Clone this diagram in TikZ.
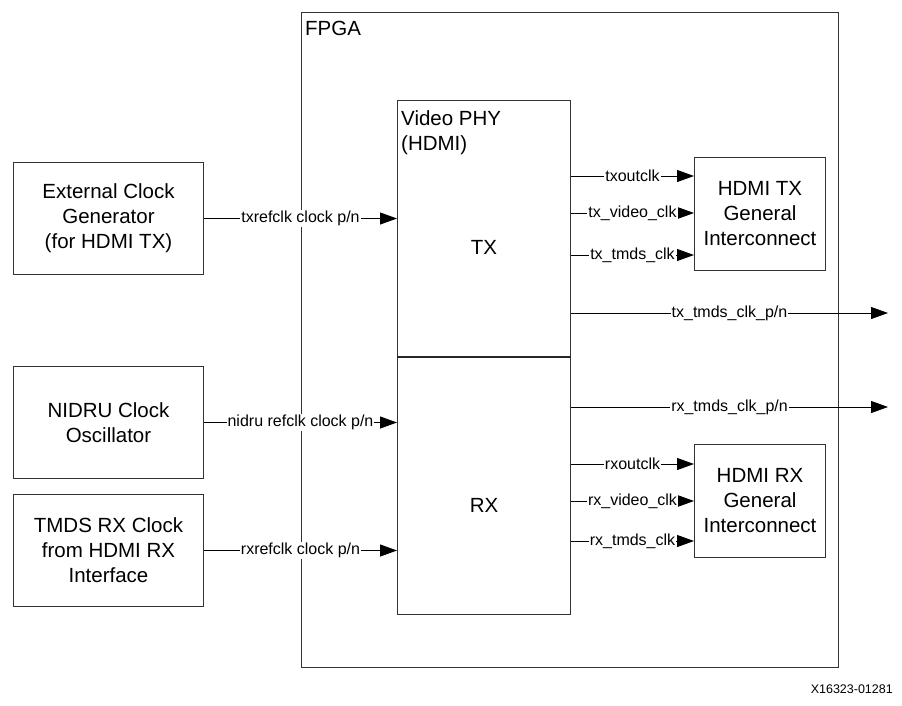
\documentclass[tikz,border=0pt]{standalone}
\usepackage{fontspec}
\setmainfont{Liberation Sans}
\usetikzlibrary{arrows.meta}
\newcommand{\lblfont}{\fontsize{16}{18}\selectfont}
\newcommand{\boxfont}{\fontsize{20.5}{25}\selectfont}
\begin{document}
\begin{tikzpicture}[x=1pt,y=-1pt,
  blk/.style={draw=black!80, line width=1pt, inner sep=0pt, anchor=north west, align=center, font=\boxfont},
  arr/.style={draw=black, line width=1pt, -{Triangle[length=17pt,width=12pt]}},
  lbl/.style={midway, fill=white, inner sep=1pt, font=\lblfont}]
\useasboundingbox (0,0) rectangle (902,705);
% FPGA
\node[blk, minimum width=537pt, minimum height=655pt] (fpga) at (301,12) {};
\node[anchor=north west, font=\boxfont, inner sep=0pt] (fpgal) at (305,21) {FPGA};
% Video PHY
\node[blk, minimum width=173pt, minimum height=514pt] (phy) at (397,100) {};
\node[anchor=north west, font=\boxfont, align=left, inner sep=0pt] (phyl) at (401,110) {Video PHY\\(HDMI)};
\draw[line width=2pt, black!85] (phy.west |- 0,357) -- (phy.east |- 0,357);
\node[font=\boxfont, inner sep=0pt] (tx) at (484,247) {TX};
\node[font=\boxfont, inner sep=0pt] (rx) at (484,505) {RX};
% left boxes
\node[blk, minimum width=190pt, minimum height=112pt] (ext) at (13,162) {External Clock\\Generator\\(for HDMI TX)};
\node[blk, minimum width=190pt, minimum height=112pt] (nid) at (13,366) {NIDRU Clock\\Oscillator};
\node[blk, minimum width=190pt, minimum height=112pt] (tmds) at (13,494) {TMDS RX Clock\\from HDMI RX\\Interface};
% right boxes
\node[blk, minimum width=131pt, minimum height=113pt] (txb) at (694,157) {HDMI TX\\General\\Interconnect};
\node[blk, minimum width=131pt, minimum height=113pt] (rxb) at (694,444) {HDMI RX\\General\\Interconnect};
% input arrows
\draw[arr] (ext.east) -- (ext.east -| phy.west) node[lbl] {txrefclk clock p/n};
\draw[arr] (nid.east) -- (nid.east -| phy.west) node[lbl] {nidru refclk clock p/n};
\draw[arr] (tmds.east) -- (tmds.east -| phy.west) node[lbl] {rxrefclk clock p/n};
% outputs
\coordinate (t1) at (694,176);
\coordinate (t2) at (694,213);
\coordinate (t3) at (694,255);
\coordinate (r1) at (694,464);
\coordinate (r2) at (694,501);
\coordinate (r3) at (694,541);
\coordinate (po1) at (888,313);
\coordinate (po2) at (888,407);
\draw[arr] (phy.east |- t1) -- (t1) node[lbl] {txoutclk};
\draw[arr] (phy.east |- t2) -- (t2) node[lbl] {tx\_video\_clk};
\draw[arr] (phy.east |- t3) -- (t3) node[lbl] {tx\_tmds\_clk};
\draw[arr] (phy.east |- po1) -- (po1) node[lbl] {tx\_tmds\_clk\_p/n};
\draw[arr] (phy.east |- po2) -- (po2) node[lbl] {rx\_tmds\_clk\_p/n};
\draw[arr] (phy.east |- r1) -- (r1) node[lbl] {rxoutclk};
\draw[arr] (phy.east |- r2) -- (r2) node[lbl] {rx\_video\_clk};
\draw[arr] (phy.east |- r3) -- (r3) node[lbl] {rx\_tmds\_clk};
% caption
\node[anchor=east, font=\fontsize{12.5}{14}\selectfont, inner sep=0pt] (cap) at (893,689) {X16323-01281};
\end{tikzpicture}
\end{document}
